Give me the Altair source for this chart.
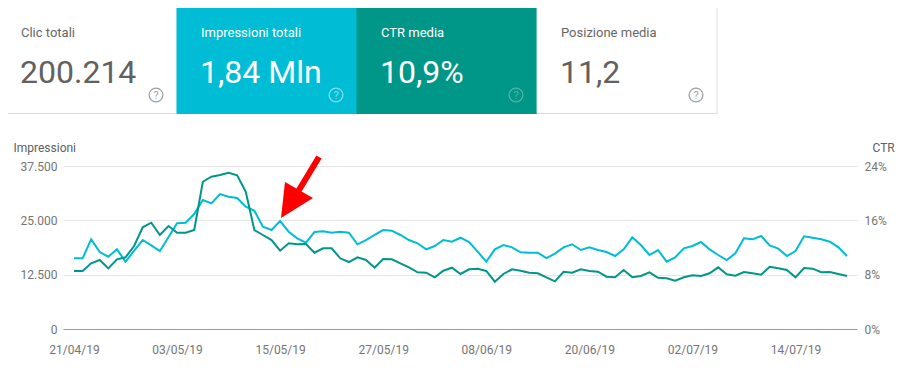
import altair as alt
import pandas as pd

# ---------------- data ----------------
dates = [d.strftime("%Y-%m-%d") for d in pd.date_range("2019-04-21", "2019-07-20", freq="D")]

impressions = [
    16260, 16260, 20630, 17710, 16630, 18330, 15480, 18010, 20470, 19250,
    17940, 21090, 24310, 24450, 26450, 29670, 28910, 31050, 30430, 30130,
    28130, 27210, 23530, 22770, 24840, 22380, 20860, 19850, 22310, 22470,
    22150, 22380, 22150, 19490, 20470, 21630, 22770, 22610, 21630, 20470,
    19720, 18330, 19090, 20470, 20090, 21000, 20010, 17790, 15490, 18330,
    19320, 18790, 17640, 17560, 17560, 16330, 17330, 18790, 19490, 18170,
    18790, 18170, 17710, 16790, 18330, 21090, 19320, 17020, 18170, 15490,
    16490, 18560, 19090, 20010, 18330, 17020, 15870, 17420, 20860, 20630,
    21400, 19250, 18480, 16790, 17940, 21320, 21000, 20630, 20090, 18790,
    16790,
]

ctr = [
    8.54, 8.54, 9.67, 10.16, 8.93, 10.26, 10.55, 12.22, 14.97, 15.65,
    13.84, 15.16, 14.18, 14.18, 14.57, 21.68, 22.42, 22.67, 23.01, 22.62,
    20.21, 14.57, 13.84, 13.10, 11.53, 12.61, 12.47, 12.51, 11.23, 11.88,
    11.88, 10.41, 9.86, 10.55, 10.16, 9.02, 10.30, 10.26, 9.67, 9.08,
    8.35, 8.29, 7.61, 8.58, 9.02, 8.10, 8.79, 8.88, 8.54, 6.96,
    8.10, 8.79, 8.58, 8.29, 8.20, 7.61, 7.02, 8.43, 8.29, 8.79,
    8.54, 8.43, 7.70, 7.61, 8.68, 7.61, 7.80, 8.35, 7.55, 7.46,
    7.11, 7.61, 7.90, 7.80, 8.20, 9.08, 8.05, 7.85, 8.39, 8.20,
    7.99, 9.17, 8.93, 8.68, 7.61, 8.98, 8.88, 8.35, 8.39, 8.10,
    7.80,
]

tick_dates = [(2019, 4, 21), (2019, 5, 3), (2019, 5, 15), (2019, 5, 27),
              (2019, 6, 8), (2019, 6, 20), (2019, 7, 2), (2019, 7, 14)]
imp_ticks = [0, 12500, 25000, 37500]
ctr_ticks = [0, 8, 16, 24]

card_titles = ["Clic totali", "Impressioni totali", "CTR media", "Posizione media"]
card_values = ["200.214", "1,84 Mln", "10,9%", "11,2"]

arrow_date = ["2019-05-17T10:19:00Z"]
arrow_value = [32670]

# ---------------- styles ----------------
CYAN = "#00bcd4"
TEAL = "#009688"
LABEL = "#757575"
FONT = "Roboto"
card_fill = ["#ffffff", CYAN, TEAL, "#ffffff"]
card_stroke = ["#dadce0", CYAN, TEAL, "#dadce0"]
card_title_col = ["#666666", "#ffffff", "#ffffff", "#666666"]
card_value_col = ["#616161", "#ffffff", "#ffffff", "#616161"]
card_icon_col = ["#a0a0a0", "#80deea", "#4db6ac", "#a0a0a0"]
ARROW_PATH = ("M -0.645 1 L -0.516 -0.161 L 0.387 0.355 Z "
              "M 0.497 -1.016 L 0.665 -0.916 L -0.077 0.31 L -0.245 0.21 Z")

df = pd.DataFrame({"date": dates, "impressions": impressions, "ctr": ctr})
cards = pd.DataFrame({"k": list(range(len(card_titles))), "title": card_titles, "value": card_values})
arrow_df = pd.DataFrame({"date": arrow_date, "value": arrow_value})

x_scale = alt.Scale(
    type="utc",
    domain=[alt.DateTime(year=2019, month=4, date=19, hours=17, minutes=18, utc=True),
            alt.DateTime(year=2019, month=7, date=21, hours=3, minutes=56, utc=True)],
)
imp_scale = alt.Scale(domain=[0, 37500], nice=False, zero=True)
ctr_scale = alt.Scale(domain=[0, 24], nice=False, zero=True)
card_x = alt.Scale(domain=[0, 4], range=[-66, 654], nice=False, zero=False)

x_axis = alt.Axis(
    values=[alt.DateTime(year=y, month=m, date=d, utc=True) for (y, m, d) in tick_dates],
    labelExpr="utcFormat(datum.value, '%d/%m/%y')",
    title=None, grid=False, ticks=False, domainColor="#9e9e9e", domainWidth=1,
    labelColor=LABEL, labelFont=FONT, labelFontSize=12, labelPadding=15,
    labelFlush=False, labelOverlap=False,
)

imp_line = alt.Chart(df).mark_line(color=CYAN, strokeWidth=2).encode(
    x=alt.X("date:T", scale=x_scale, axis=x_axis),
    y=alt.Y("impressions:Q", scale=imp_scale, axis=alt.Axis(
        values=imp_ticks,
        labelExpr="replace(format(datum.value, ','), ',', '.')",
        title="Impressioni", titleAngle=0, titleAlign="left", titleBaseline="alphabetic",
        titleX=-50, titleY=-15, titleColor="#616161", titleFont=FONT, titleFontSize=12,
        titleFontWeight="normal",
        grid=True, gridColor="#e6e6e6", domain=False, ticks=False,
        labelColor=LABEL, labelFont=FONT, labelFontSize=12, labelPadding=6,
    )),
)

ctr_line = alt.Chart(df).mark_line(color=TEAL, strokeWidth=2).encode(
    x=alt.X("date:T", scale=x_scale, axis=None),
    y=alt.Y("ctr:Q", scale=ctr_scale, axis=alt.Axis(
        orient="right", values=ctr_ticks, labelExpr="datum.value + '%'",
        title="CTR", titleAngle=0, titleAlign="left", titleBaseline="alphabetic",
        titleX=15, titleY=-15, titleColor="#616161", titleFont=FONT, titleFontSize=12,
        titleFontWeight="normal",
        grid=False, domain=False, ticks=False,
        labelColor=LABEL, labelFont=FONT, labelFontSize=12, labelPadding=7,
    )),
)

arrow = alt.Chart(arrow_df).mark_point(
    shape=ARROW_PATH, size=3844, filled=True, color="#ff0000", opacity=1, strokeWidth=0
).encode(
    x=alt.X("date:T", scale=x_scale, axis=None),
    y=alt.Y("value:Q", scale=imp_scale, axis=None),
)

card_rect = alt.Chart(cards).transform_calculate(k2="datum.k + 1").mark_rect(strokeWidth=1).encode(
    x=alt.X("k:Q", scale=card_x, axis=None),
    x2="k2:Q",
    y=alt.value(-170),
    y2=alt.value(-52.5),
    fill=alt.Fill("title:N", scale=alt.Scale(domain=card_titles, range=card_fill), legend=None),
    stroke=alt.Stroke("title:N", scale=alt.Scale(domain=card_titles, range=card_stroke), legend=None),
)

card_title = alt.Chart(cards).mark_text(
    align="left", baseline="alphabetic", font=FONT, fontSize=13, dx=24
).encode(
    x=alt.X("k:Q", scale=card_x, axis=None),
    y=alt.value(-129),
    text="title:N",
    color=alt.Color("title:N", scale=alt.Scale(domain=card_titles, range=card_title_col), legend=None),
)

card_value = alt.Chart(cards).mark_text(
    align="left", baseline="alphabetic", font=FONT, fontSize=32, dx=23
).encode(
    x=alt.X("k:Q", scale=card_x, axis=None),
    y=alt.value(-83),
    text="value:N",
    color=alt.Color("title:N", scale=alt.Scale(domain=card_titles, range=card_value_col), legend=None),
)

card_icon = alt.Chart(cards).transform_calculate(ki="datum.k + 159/180").mark_point(
    shape="circle", size=190, filled=False, strokeWidth=1.3, opacity=1
).encode(
    x=alt.X("ki:Q", scale=card_x, axis=None),
    y=alt.value(-71),
    color=alt.Color("title:N", scale=alt.Scale(domain=card_titles, range=card_icon_col), legend=None),
)

card_icon_q = alt.Chart(cards).transform_calculate(ki="datum.k + 159/180", q="'?'").mark_text(
    align="center", baseline="middle", font=FONT, fontSize=11, fontWeight="normal"
).encode(
    x=alt.X("ki:Q", scale=card_x, axis=None),
    y=alt.value(-70.5),
    text="q:N",
    color=alt.Color("title:N", scale=alt.Scale(domain=card_titles, range=card_icon_col), legend=None),
)

chart = alt.layer(
    card_rect, card_title, card_value, card_icon, card_icon_q,
    imp_line, ctr_line, arrow,
).resolve_scale(
    x="independent", y="independent", color="independent", fill="independent", stroke="independent"
).properties(
    width=794, height=163,
    padding={"left": 55, "top": 158, "right": 40, "bottom": 40},
    autosize=alt.AutoSizeParams(type="none"),
    background="#ffffff",
).configure_view(strokeWidth=0)

chart.save("out.html", embed_options={"renderer": "svg", "actions": False})
